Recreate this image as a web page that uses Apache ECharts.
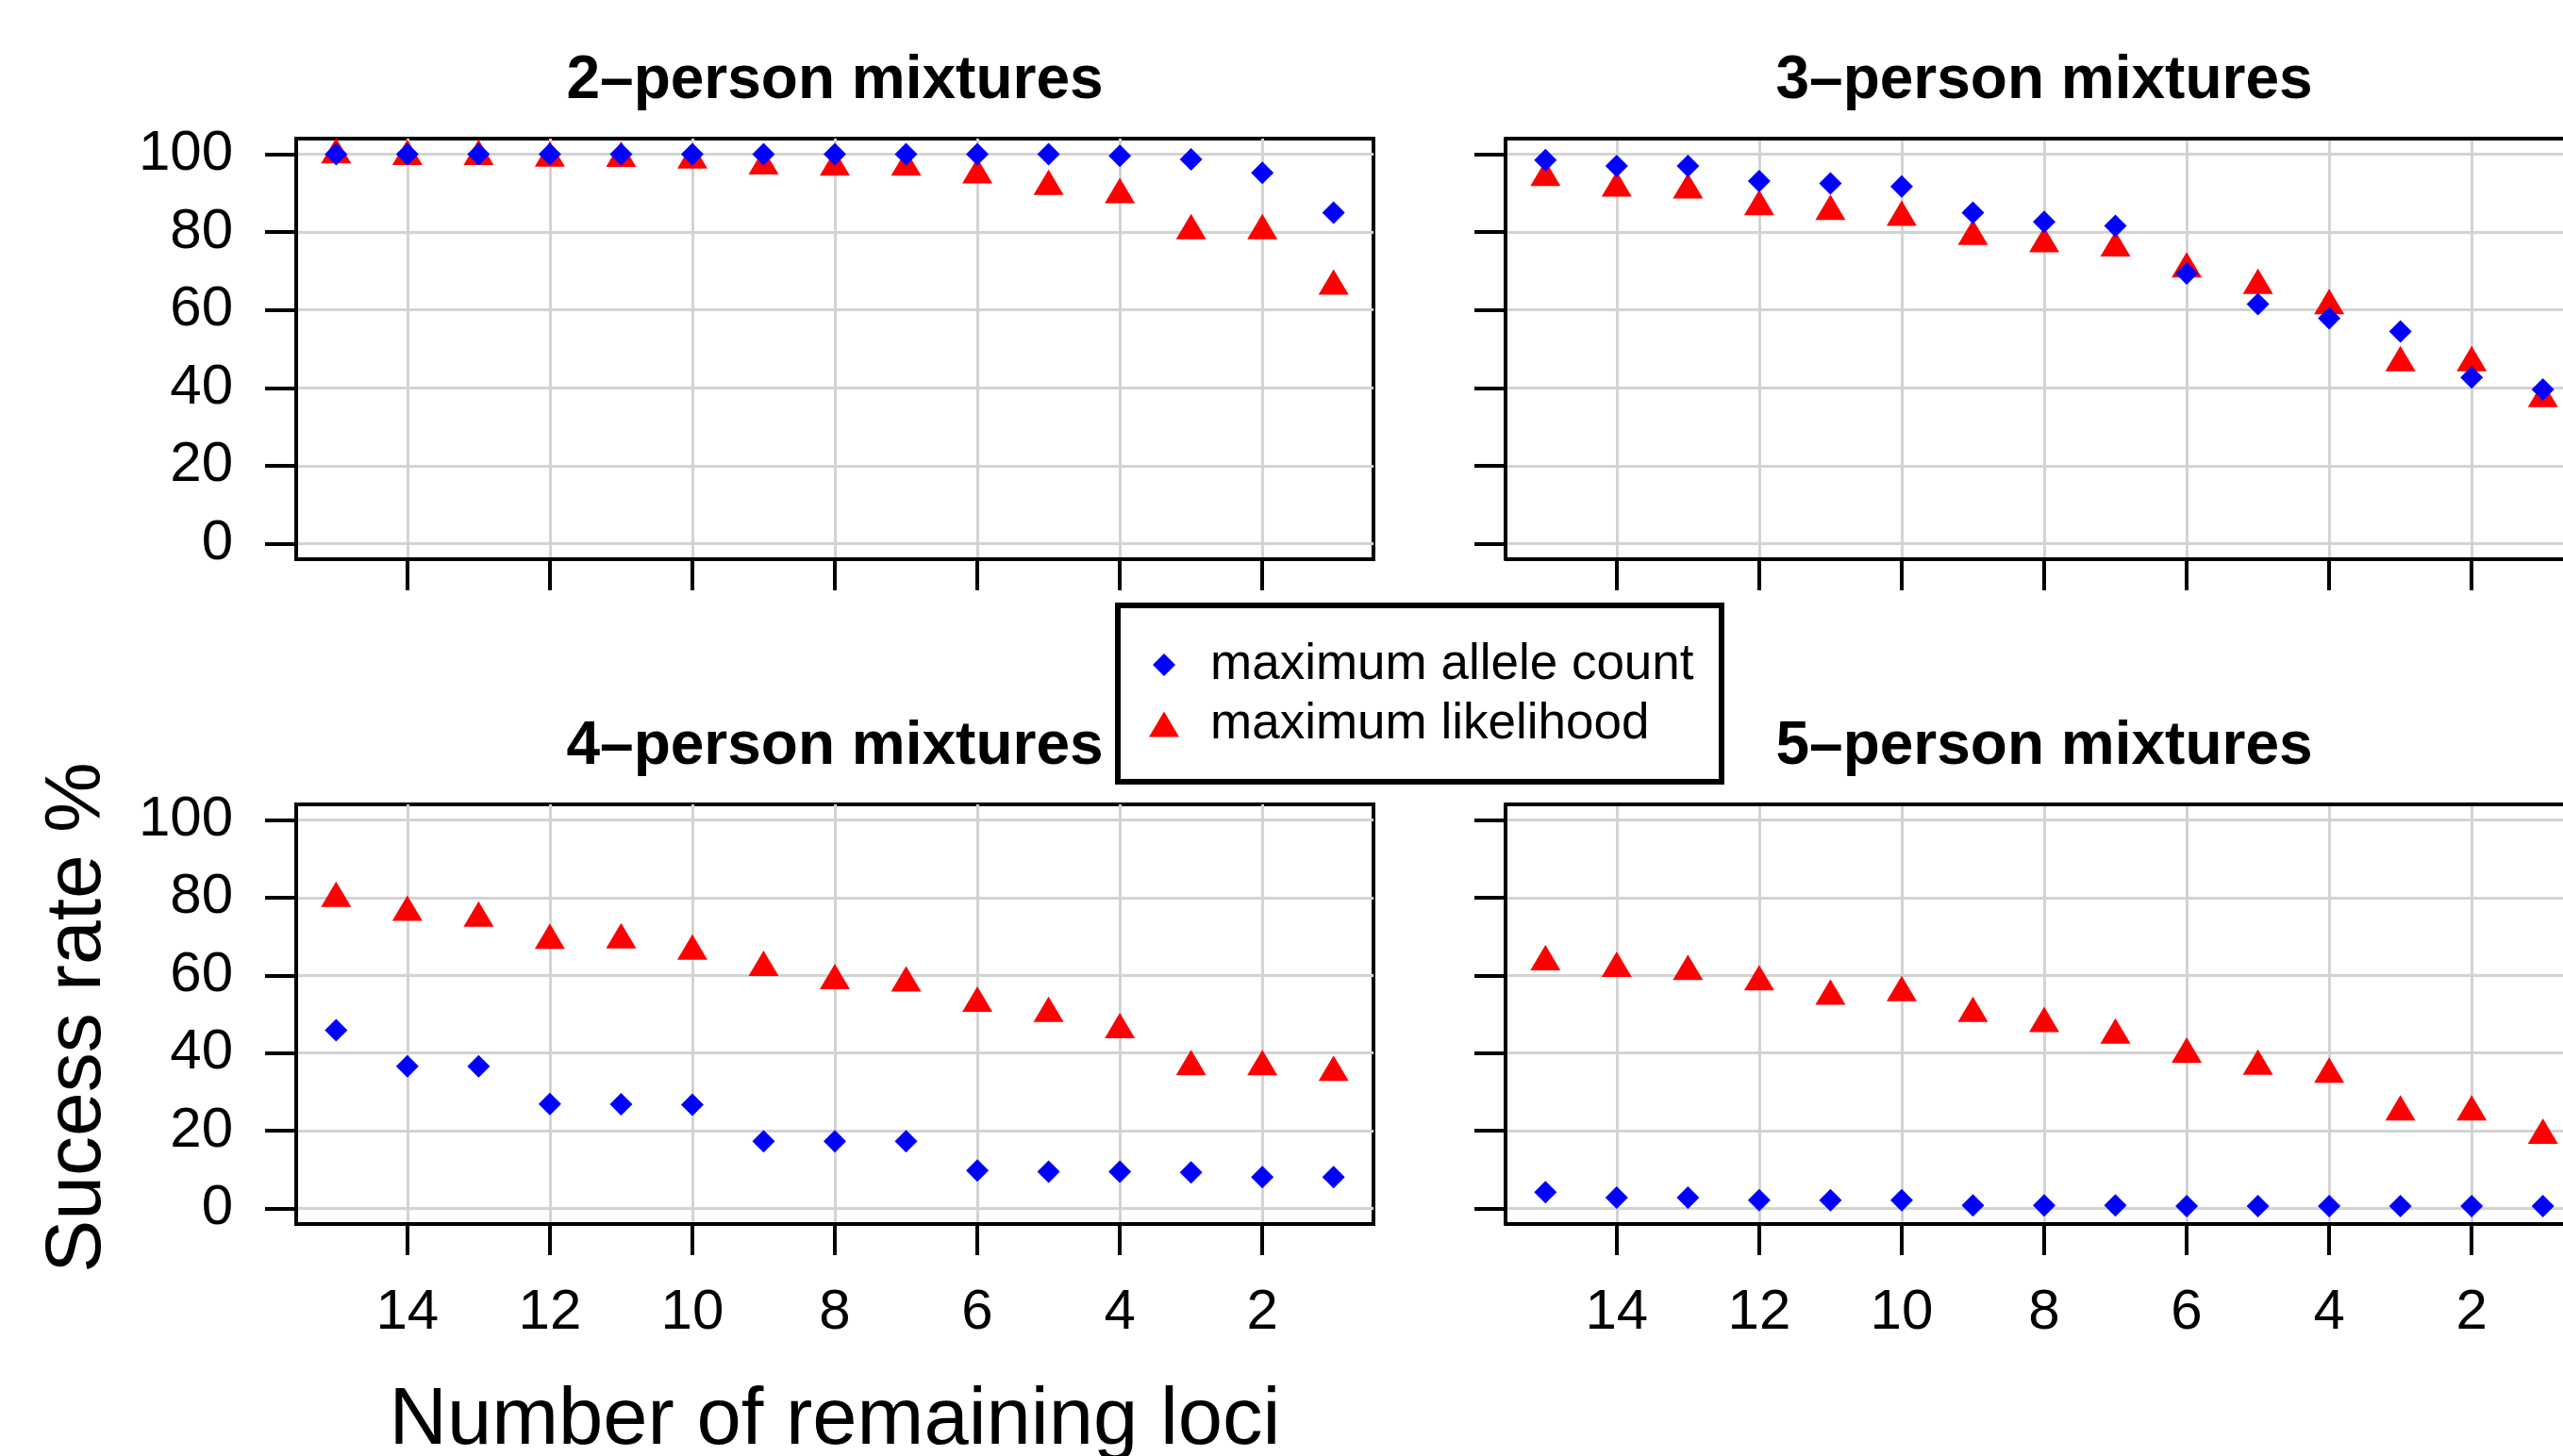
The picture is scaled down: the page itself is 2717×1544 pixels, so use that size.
<!DOCTYPE html>
<html>
<head>
<meta charset="utf-8">
<script src="https://cdn.jsdelivr.net/npm/echarts@6/dist/echarts.min.js"></script>
<style>
html,body{margin:0;padding:0;background:#ffffff;}
#chart{width:2717px;height:1544px;}
</style>
</head>
<body>
<div id="chart"></div>
<script>
// ---------- data ----------
const loci = [15, 14, 13, 12, 11, 10, 9, 8, 7, 6, 5, 4, 3, 2, 1];
const panelTitles = ['2–person mixtures', '3–person mixtures', '4–person mixtures', '5–person mixtures'];
const seriesNames = ['maximum allele count', 'maximum likelihood'];
const xTickValues = [2, 4, 6, 8, 10, 12, 14];
const yTickValues = [0, 20, 40, 60, 80, 100];
const xTitle = 'Number of remaining loci';
const yTitle = 'Sucess rate %';

const alleleCount2 = [100, 100, 100, 100, 100, 100, 100, 100, 100, 100, 100, 99.6, 98.7, 95.2, 85];
const likelihood2  = [99.8, 99.4, 99.4, 99, 98.9, 98.5, 97, 96.7, 96.7, 94.7, 91.7, 89.6, 80.3, 80.3, 66.1];
const alleleCount3 = [98.5, 97, 97, 93.1, 92.5, 91.7, 85, 82.6, 81.6, 69.4, 61.5, 57.9, 54.5, 42.7, 39.6];
const likelihood3  = [94, 91.3, 90.8, 86.5, 85.3, 83.8, 78.9, 77, 75.9, 70.5, 66.3, 61.1, 46.4, 46.4, 37.2];
const alleleCount4 = [45.9, 36.6, 36.6, 26.9, 26.8, 26.7, 17.3, 17.3, 17.3, 9.8, 9.5, 9.5, 9.3, 8.1, 8.1];
const likelihood4  = [79.8, 76.2, 74.7, 69, 69.1, 66.2, 62, 58.6, 58, 52.8, 50.2, 46, 36.5, 36.5, 35];
const alleleCount5 = [4.2, 2.8, 2.8, 2.1, 2.1, 2.1, 0.8, 0.8, 0.8, 0.6, 0.6, 0.6, 0.6, 0.6, 0.6];
const likelihood5  = [63.5, 61.8, 61, 58.3, 54.6, 55.5, 50.2, 47.6, 44.6, 39.7, 36.6, 34.5, 24.8, 24.8, 18.8];

// ---------- layout / style ----------
const FONT = '"Liberation Sans", Arial, Helvetica, sans-serif';
const alleleSets = [alleleCount2, alleleCount3, alleleCount4, alleleCount5];
const likeSets = [likelihood2, likelihood3, likelihood4, likelihood5];
// right-hand panels are cut off by the image edge in the original figure
const gridRects = [
  {left: 314, top: 147, width: 1142, height: 446},
  {left: 1596, top: 147, width: 1121, height: 446},
  {left: 314, top: 853, width: 1142, height: 445},
  {left: 1596, top: 853, width: 1121, height: 445}
];
const xMinByPanel = [0.44, 0.718, 0.44, 0.718];
const xMax = 15.56;
const titleCx = [885, 2167, 885, 2167];
const titleY = [86, 86, 792, 792];

const grid = gridRects.map((r, i) => Object.assign({
  show: i % 2 === 0, borderColor: '#000', borderWidth: 4, backgroundColor: 'transparent', containLabel: false
}, r));

const blackLine = {color: '#000', width: 4};
const xAxis = gridRects.map((r, i) => ({
  gridIndex: i, type: 'value', min: xMinByPanel[i], max: xMax, inverse: true, position: 'bottom',
  axisLine: {show: true, onZero: false, lineStyle: blackLine},
  axisTick: {show: true, inside: false, length: 33, customValues: xTickValues, lineStyle: blackLine},
  axisLabel: {show: i >= 2, customValues: xTickValues, margin: 64, fontSize: 60, lineHeight: 60, fontFamily: FONT, color: '#000'},
  splitLine: {show: true, lineStyle: {color: '#D3D3D3', width: 3}}
}));
// top frame lines for the clipped right-hand panels
[1, 3].forEach(i => {
  xAxis.push({
    gridIndex: i, type: 'value', min: xMinByPanel[i], max: xMax, inverse: true, position: 'top',
    axisLine: {show: true, onZero: false, lineStyle: blackLine},
    axisTick: {show: false}, axisLabel: {show: false}, splitLine: {show: false}
  });
});

const yAxis = gridRects.map((r, i) => ({
  gridIndex: i, type: 'value', min: -4, max: 104, position: 'left',
  axisLine: {show: true, onZero: false, lineStyle: blackLine},
  axisTick: {show: true, inside: false, length: 33, customValues: yTickValues, lineStyle: blackLine},
  axisLabel: {show: i % 2 === 0, customValues: yTickValues, margin: 67, fontSize: 60, fontFamily: FONT, color: '#000'},
  splitLine: {show: true, lineStyle: {color: '#D3D3D3', width: 3}}
}));

const series = [];
for (let p = 0; p < 4; p++) {
  series.push({
    type: 'scatter', name: seriesNames[1], xAxisIndex: p, yAxisIndex: p,
    data: loci.map((x, k) => [x, likeSets[p][k]]),
    symbol: 'triangle', symbolSize: [32, 27], symbolOffset: [0, -4.5],
    itemStyle: {color: '#FF0000', opacity: 1}, silent: true, z: 3
  });
  series.push({
    type: 'scatter', name: seriesNames[0], xAxisIndex: p, yAxisIndex: p,
    data: loci.map((x, k) => [x, alleleSets[p][k]]),
    symbol: 'diamond', symbolSize: [24, 24],
    itemStyle: {color: '#0000FF', opacity: 1}, silent: true, z: 4
  });
}

const graphic = [];
panelTitles.forEach((t, i) => {
  graphic.push({
    type: 'text', x: titleCx[i], y: titleY[i], silent: true,
    style: {text: t, fill: '#000', font: 'bold 64px ' + FONT, align: 'center', verticalAlign: 'middle'}
  });
});
graphic.push({
  type: 'text', x: 885, y: 1508, silent: true,
  style: {text: xTitle, fill: '#000', font: '85px ' + FONT, align: 'center', verticalAlign: 'middle'}
});
graphic.push({
  type: 'text', x: 83, y: 1079, rotation: Math.PI / 2, silent: true,
  style: {text: yTitle, fill: '#000', font: '84px ' + FONT, align: 'center', verticalAlign: 'middle'}
});
graphic.push({
  type: 'rect', z: 1, silent: true,
  shape: {x: 1185, y: 642, width: 640, height: 187},
  style: {fill: '#fff', stroke: '#000', lineWidth: 6}
});

const legendText = {fontSize: 53, lineHeight: 53, fontFamily: FONT, color: '#000'};
const legend = [
  {
    data: [{name: seriesNames[0], icon: 'path://M12,0L24,12L12,24L0,12Z'}],
    orient: 'vertical', left: 1222, top: 678.5, padding: 0,
    itemWidth: 88, itemHeight: 24, symbolKeepAspect: true,
    selectedMode: false, textStyle: legendText, z: 10
  },
  {
    data: [{name: seriesNames[1], icon: 'path://M16,0L32,27L0,27Z'}],
    orient: 'vertical', left: 1218, top: 741.5, padding: 0,
    itemWidth: 88, itemHeight: 27, symbolKeepAspect: true,
    selectedMode: false, textStyle: legendText, z: 10
  }
];

const chart = echarts.init(document.getElementById('chart'), null, {renderer: 'canvas'});
chart.setOption({
  animation: false,
  backgroundColor: '#ffffff',
  grid, xAxis, yAxis, series, legend, graphic
});
</script>
</body>
</html>
